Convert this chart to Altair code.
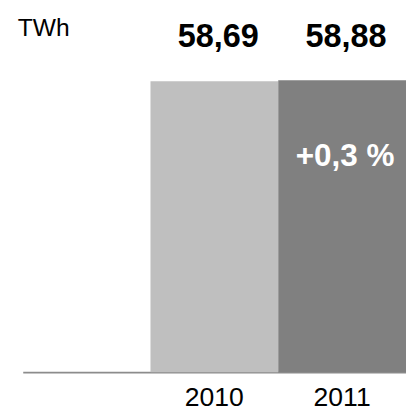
import altair as alt
import pandas as pd

categories = ["", "2010", "2011"]
years = ["2010", "2011"]
values = [58.69, 58.88]
value_labels = ["58,69", "58,88"]
bar_colors = ["#BFBFBF", "#808080"]
change_label = "+0,3 %"
unit_label = "TWh"

df = pd.DataFrame({"year": years, "value": values, "label": value_labels})

FONT = "Liberation Sans"

xenc = alt.X("year:N", sort=categories,
             scale=alt.Scale(domain=categories, paddingInner=0, paddingOuter=0),
             axis=alt.Axis(title=None, labelFontSize=27, labelFont=FONT, labelColor="#000000",
                           ticks=False, labelPadding=13, domainColor="#8c8c8c", domainWidth=2,
                           labelAngle=0, grid=False))

bars = alt.Chart(df).mark_bar(size=130).encode(
    x=xenc,
    y=alt.Y("value:Q", scale=alt.Scale(domain=[0, 70], nice=False), axis=None),
    color=alt.Color("year:N", scale=alt.Scale(domain=years, range=bar_colors), legend=None),
)

vals = alt.Chart(df).mark_text(fontSize=33, fontWeight="bold", font=FONT, color="#000000",
                               baseline="alphabetic", align="center", dx=4).encode(
    x=alt.X("year:N", sort=categories),
    y=alt.value(22),
    text="label:N",
)

change = alt.Chart(pd.DataFrame({"year": ["2011"], "t": [change_label]})).mark_text(
    fontSize=32, fontWeight="bold", font=FONT, color="#FFFFFF",
    baseline="alphabetic", align="center", dx=3).encode(
    x=alt.X("year:N", sort=categories),
    y=alt.value(143),
    text="t:N",
)

unit = alt.Chart(pd.DataFrame({"t": [unit_label]})).mark_text(
    fontSize=25, font=FONT, color="#000000", baseline="alphabetic", align="left").encode(
    x=alt.value(-5),
    y=alt.value(11),
    text="t:N",
)

chart = alt.layer(bars, vals, change, unit).properties(
    width=390, height=353,
    background="#FFFFFF",
    autosize=alt.AutoSizeParams(type="none"),
    padding={"left": 15, "top": 14, "right": 0, "bottom": 37},
).configure_view(stroke=None)

chart.save("out.html", embed_options={"renderer": "svg", "actions": False})
